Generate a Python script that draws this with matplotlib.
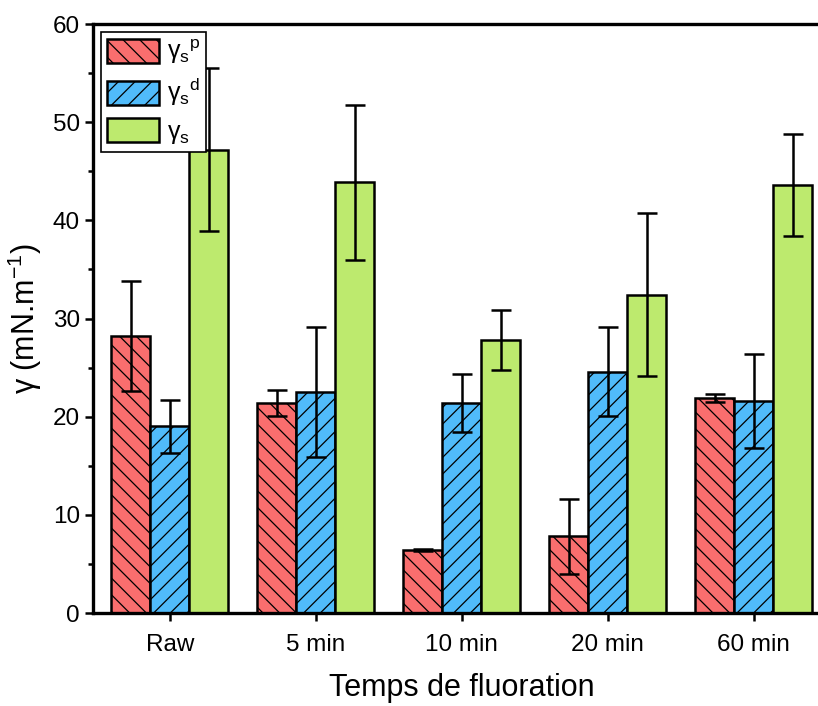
import matplotlib.pyplot as plt
import numpy as np
from matplotlib.ticker import MultipleLocator

plt.rcParams['font.family'] = ['Liberation Sans', 'DejaVu Sans']
plt.rcParams['mathtext.fontset'] = 'custom'
plt.rcParams['mathtext.rm'] = 'Liberation Sans'
plt.rcParams['mathtext.it'] = 'Liberation Sans'
plt.rcParams['hatch.linewidth'] = 0.9

# surface energy components per fluorination time
categories = ['Raw', '5 min', '10 min', '20 min', '60 min']
gamma_p = [28.2, 21.4, 6.4, 7.8, 21.9]
gamma_p_err = [5.6, 1.3, 0.1, 3.8, 0.45]
gamma_d = [19.0, 22.5, 21.4, 24.6, 21.6]
gamma_d_err = [2.7, 6.6, 2.95, 4.5, 4.8]
gamma_s = [47.2, 43.9, 27.8, 32.4, 43.6]
gamma_s_err = [8.3, 7.9, 3.05, 8.3, 5.2]

fig = plt.figure(figsize=(8.18, 7.06), dpi=100)
ax = fig.add_axes([0.1137, 0.1317, 0.902, 0.8343])

x = np.arange(len(categories))
w = 0.267
err_kw = dict(ecolor='black', elinewidth=1.8, capsize=7, capthick=1.8)

ax.bar(x - w, gamma_p, w, yerr=gamma_p_err, color='#F96E6E', edgecolor='black',
       linewidth=1.8, hatch='\\\\', error_kw=err_kw, label=r'$\mathregular{γ_{s}{}^{p}}$')
ax.bar(x, gamma_d, w, yerr=gamma_d_err, color='#50BBFA', edgecolor='black',
       linewidth=1.8, hatch='//', error_kw=err_kw, label=r'$\mathregular{γ_{s}{}^{d}}$')
ax.bar(x + w, gamma_s, w, yerr=gamma_s_err, color='#BDEA6E', edgecolor='black',
       linewidth=1.8, error_kw=err_kw, label=r'$\mathregular{γ_{s}}$')

ax.set_xlim(-0.527, 4.527)
ax.set_ylim(0, 60)
ax.set_xticks(x)
ax.set_xticklabels(categories)
ax.yaxis.set_major_locator(MultipleLocator(10))
ax.yaxis.set_minor_locator(MultipleLocator(5))
ax.tick_params(axis='both', direction='out', labelsize=17.5, width=1.8, length=6)
ax.tick_params(axis='x', pad=9)
ax.tick_params(axis='y', which='minor', direction='out', width=1.8, length=3.5)
for s in ax.spines.values():
    s.set_linewidth(2.4)

ax.set_xlabel('Temps de fluoration', fontsize=22, labelpad=12)
ax.set_ylabel(r'γ (mN.m$^{\mathregular{-1}}$)', fontsize=22, labelpad=6)

leg = ax.legend(loc='upper left', fontsize=18, frameon=True, fancybox=False,
                framealpha=1, edgecolor='black', handlelength=2.1, handleheight=1.1,
                borderaxespad=0.3, borderpad=0.25, labelspacing=0.4, handletextpad=0.3)
leg.get_frame().set_linewidth(1.2)

fig.savefig('out.png', dpi=100)
